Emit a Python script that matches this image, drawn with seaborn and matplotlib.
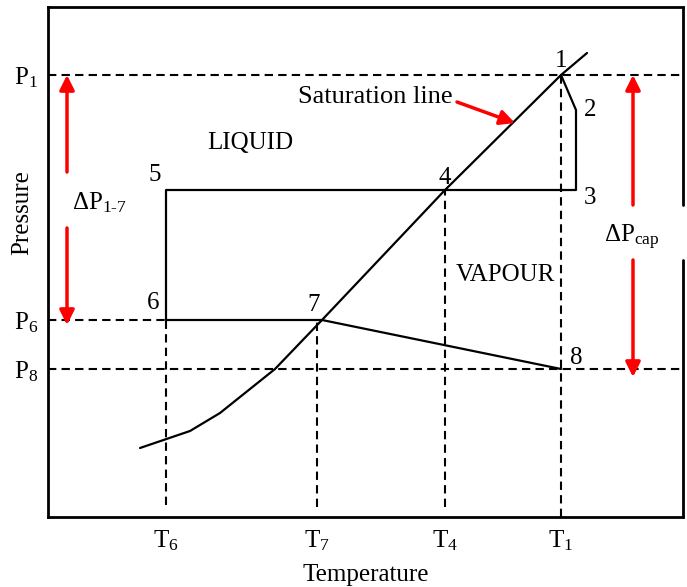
import seaborn as sns
import pandas as pd
import matplotlib.pyplot as plt

# schematic values (arbitrary units)
sat_T = [92, 142, 172, 207, 227, 274, 397, 513, 539]
sat_P = [69, 86, 104, 132, 148, 197, 327, 442, 464]

state_names = ['1', '2', '3', '4', '5', '6', '7', '8']
state_T = [513, 528, 528, 397, 118, 118, 274, 513]
state_P = [442, 407, 327, 327, 327, 197, 197, 148]

T_ticks = [118, 269, 397, 513]
T_labels = [r'$\mathrm{T}_{6}$', r'$\mathrm{T}_{7}$', r'$\mathrm{T}_{4}$', r'$\mathrm{T}_{1}$']
P_ticks = [442, 197, 148]
P_labels = [r'$\mathrm{P}_{1}$', r'$\mathrm{P}_{6}$', r'$\mathrm{P}_{8}$']

sns.set_theme(style='white')
plt.rcParams['font.family'] = ['Liberation Serif', 'DejaVu Serif']
plt.rcParams['mathtext.fontset'] = 'custom'
plt.rcParams['mathtext.rm'] = 'Liberation Serif'
plt.rcParams['mathtext.it'] = 'Liberation Serif:italic'
plt.rcParams['text.color'] = 'black'
plt.rcParams['axes.labelcolor'] = 'black'
plt.rcParams['xtick.color'] = 'black'
plt.rcParams['ytick.color'] = 'black'

fs = 18
fig = plt.figure(figsize=(6.87, 5.87), dpi=100)
ax = fig.add_axes([48 / 687, 70 / 587, 635 / 687, 510 / 587])
ax.set_xlim(0, 635)
ax.set_ylim(0, 510)

dash = dict(color='black', lw=1.5, ls=(0, (4, 2.5)))
# horizontal pressure levels
ax.plot([0, 635], [P_ticks[0]] * 2, **dash)
ax.plot([0, 635], [P_ticks[2]] * 2, **dash)
ax.plot([0, state_T[5]], [P_ticks[1]] * 2, **dash)
# vertical temperature levels
ax.plot([T_ticks[0]] * 2, [12, state_P[5]], **dash)
ax.plot([T_ticks[1]] * 2, [10, state_P[6]], **dash)
ax.plot([T_ticks[2]] * 2, [10, state_P[3]], **dash)
ax.plot([T_ticks[3]] * 2, [0, state_P[0]], **dash)

sat = pd.DataFrame({'T': sat_T, 'P': sat_P})
cyc = pd.DataFrame({'T': state_T, 'P': state_P})
sns.lineplot(data=sat, x='T', y='P', sort=False, estimator=None, color='black', lw=1.6, ax=ax)
sns.lineplot(data=cyc, x='T', y='P', sort=False, estimator=None, color='black', lw=1.6, ax=ax)

offsets = [(0, 10), (10, 0), (10, -6), (0, 9), (-8, 11), (-9, 12), (-6, 11), (11, 8)]
for name, t, p, off in zip(state_names, state_T, state_P, offsets):
    ax.annotate(name, (t, p), xytext=off, textcoords='offset points',
                ha='center', va='center', fontsize=fs)

ax.text(202, 374, 'LIQUID', ha='center', va='center', fontsize=fs)
ax.text(457, 242, 'VAPOUR', ha='center', va='center', fontsize=fs)
ax.text(327, 420, 'Saturation line', ha='center', va='center', fontsize=19)
red = dict(arrowstyle='-|>', color='red', lw=2.5, mutation_scale=22, shrinkA=0, shrinkB=0)
ax.annotate('', xy=(467, 394), xytext=(409, 415), arrowprops=red)

# pressure drop arrows
ax.text(52, 314, r'$\Delta\mathrm{P}_{\mathrm{1\text{-}7}}$', ha='center', va='center', fontsize=fs)
ax.annotate('', xy=(19, 442), xytext=(19, 345), arrowprops=red)
ax.annotate('', xy=(19, 192), xytext=(19, 289), arrowprops=red)
ax.text(584, 280, r'$\Delta\mathrm{P}_{\mathrm{cap}}$', ha='center', va='center', fontsize=fs)
ax.annotate('', xy=(585, 442), xytext=(585, 312), arrowprops=red)
ax.annotate('', xy=(585, 140), xytext=(585, 257), arrowprops=red)

ax.set_xticks(T_ticks, T_labels, fontsize=fs)
ax.set_yticks(P_ticks, P_labels, fontsize=fs)
ax.tick_params(length=0)
ax.tick_params(axis='x', pad=8)
ax.tick_params(axis='y', pad=7)
ax.set_xlabel('Temperature', fontsize=fs, labelpad=8)
ax.set_ylabel('Pressure', fontsize=fs)
ax.yaxis.set_label_coords(-0.024, 0.596)

for s in ['left', 'top', 'bottom']:
    ax.spines[s].set_color('black')
    ax.spines[s].set_linewidth(2)
ax.spines['right'].set_visible(False)
ax.axvline(635, 0, 257 / 510, color='black', lw=2, clip_on=False)
ax.axvline(635, 312 / 510, 1, color='black', lw=2, clip_on=False)

fig.savefig('out.png', dpi=100)
